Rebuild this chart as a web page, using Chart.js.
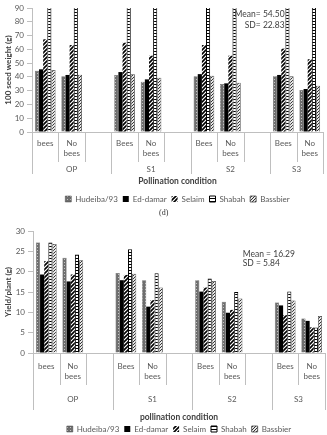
<!DOCTYPE html>
<html><head><meta charset="utf-8">
<script src="https://cdn.jsdelivr.net/npm/chart.js@4.4.0/dist/chart.umd.min.js"></script>
<style>
html,body{margin:0;padding:0;background:#fff;overflow:hidden;width:327px;height:435px;position:relative;}
#w1{position:absolute;left:0;top:0;width:327px;height:213px;}
#w2{position:absolute;left:0;top:222px;width:327px;height:221px;}
#dlabel{position:absolute;left:159px;top:208px;font:8px "Liberation Serif",serif;color:#333;}
</style></head><body>
<div id="w1"><canvas id="c1" width="327" height="213"></canvas></div>
<div id="w2"><canvas id="c2" width="327" height="221"></canvas></div>
<div id="dlabel">(d)</div>
<script>
// ---- data ----
const categories = ['bees',['No','bees'],'','Bees',['No','bees'],'','Bees',['No','bees'],'','Bees',['No','bees']];
const groups = ['OP','S1','S2','S3'];
const groupStart = [0,3,6,9];
const groupEnd = [2,5,8,10];
const varieties = ['Hudeiba/93','Ed-damar','Selaim','Shabah','Bassbier'];

// 100 seed weight (g)
const seedHudeiba  = [44.5,40.4,null,41.4,36.5,null,40.4,34.8,null,40.4,30.5];
const seedEddamar  = [45.5,41.4,null,43.5,38.2,null,42.0,35.3,null,41.4,31.2];
const seedSelaim   = [67.3,63.1,null,64.8,55.4,null,63.1,55.4,null,60.5,52.8];
const seedShabah   = [98,95,null,97,92,null,96,91,null,94,90.5];
const seedBassbier = [45.0,41.5,null,42.0,39.4,null,40.8,35.8,null,40.4,33.6];
const seedStats = ['Mean= 54.50','SD= 22.83'];

// Yield / plant (g)
const yieldHudeiba  = [27.2,23.4,null,19.7,17.9,null,17.9,12.6,null,12.4,8.5];
const yieldEddamar  = [19.3,17.6,null,17.9,11.4,null,15.1,9.9,null,11.7,7.9];
const yieldSelaim   = [22.6,19.3,null,19.2,13.0,null,16.1,10.6,null,9.3,6.3];
const yieldShabah   = [27.2,24.2,null,25.5,19.6,null,18.3,15.0,null,15.1,6.3];
const yieldBassbier = [26.8,22.8,null,19.5,16.1,null,17.7,13.4,null,12.9,9.1];
const yieldStats = ['Mean = 16.29','SD = 5.84'];

// ---- styles ----
const F = 'Lato, "Liberation Sans", sans-serif';
function pat(w,h,fn){const c=document.createElement('canvas');c.width=w;c.height=h;const g=c.getContext('2d');fn(g,w,h);return g.createPattern(c,'repeat');}
const fills = [
  pat(3,3,(g,w,h)=>{g.fillStyle='#6e6e6e';g.fillRect(0,0,w,h);g.fillStyle='#c4c4c4';g.fillRect(1,1,1,1);}),
  '#000000',
  pat(4,4,(g,w,h)=>{g.fillStyle='#fff';g.fillRect(0,0,w,h);g.strokeStyle='#000';g.lineWidth=1.6;g.beginPath();g.moveTo(-1,5);g.lineTo(5,-1);g.moveTo(-1,1);g.lineTo(1,-1);g.moveTo(3,5);g.lineTo(5,3);g.stroke();}),
  pat(3,3,(g,w,h)=>{g.fillStyle='#fff';g.fillRect(0,0,w,h);g.fillStyle='#000';g.fillRect(0,0,w,1);}),
  pat(3,3,(g,w,h)=>{g.fillStyle='#e8e8e8';g.fillRect(0,0,w,h);g.fillStyle='#333';g.fillRect(0,0,1,1);g.fillRect(2,1,1,1);g.fillRect(1,2,1,1);})
];
const borders = ['#444','#000','#000','#000','#444'];
const bws = [0.5,0,0,1,0.8];

const tableAxis = {
  id:'tableAxis',
  afterDraw(chart, args, o){
    const ctx=chart.ctx, xs=chart.scales.x, ys=chart.scales.y, base=xs.top;
    const n=chart.data.labels.length;
    const longAt=new Set(groupStart.map(s=>s-0.5).concat([n-0.5]));
    ctx.save();
    ctx.strokeStyle='#bfbfbf';ctx.lineWidth=1;
    for(let k=-0.5;k<=n-0.5;k+=1){
      const x=Math.round(xs.getPixelForValue(k))+0.5;
      const yb=base+(longAt.has(k)?o.groupBottom:o.rowBottom);
      ctx.beginPath();ctx.moveTo(x,base);ctx.lineTo(x,yb);ctx.stroke();
    }
    ctx.fillStyle='#595959';ctx.font='8px '+F;ctx.textAlign='center';ctx.textBaseline='middle';
    chart.data.labels.forEach((lab,i)=>{
      const lines=Array.isArray(lab)?lab:[lab];
      const x=xs.getPixelForValue(i);
      lines.forEach((t,j)=>ctx.fillText(t,x,base+o.row1Y+j*o.lineGap));
    });
    groups.forEach((g,i)=>{
      const x=(xs.getPixelForValue(groupStart[i])+xs.getPixelForValue(groupEnd[i]))/2;
      ctx.fillText(g,x,base+o.groupY);
    });
    ctx.font='bold 8.5px '+F;ctx.fillStyle='#404040';
    ctx.fillText(o.title,(xs.left+xs.right)/2,base+o.titleY);
    ctx.font='8.5px '+F;ctx.fillStyle='#404040';ctx.textAlign=o.statAlign;
    o.stats.forEach((t,j)=>ctx.fillText(t,xs.getPixelForValue(o.statX),ys.getPixelForValue(o.statY[j])));
    ctx.restore();
  }
};

function build(id,o){
  const datasets=o.series.map((d,i)=>({label:varieties[i],data:d,backgroundColor:fills[i],borderColor:borders[i],borderWidth:bws[i],barPercentage:1,categoryPercentage:0.78}));
  return new Chart(document.getElementById(id),{
    type:'bar',
    data:{labels:categories,datasets},
    plugins:[tableAxis],
    options:{
      responsive:false,animation:false,
      layout:{padding:{top:o.padTop,right:o.padRight,left:0,bottom:0}},
      scales:{
        x:{ticks:{display:false},grid:{display:false},border:{display:true,color:'#bfbfbf'},afterFit(s){s.height=o.xHeight;}},
        y:{min:0,max:o.yMax,
           ticks:{stepSize:o.yStep,color:'#595959',font:{family:F,size:8},padding:3},
           grid:{drawOnChartArea:false,drawTicks:true,tickLength:5,color:'#bfbfbf'},
           border:{display:true,color:'#bfbfbf'},
           title:{display:true,text:o.yTitle,color:'#404040',font:{family:F,size:8,weight:'bold'},padding:{top:4,bottom:0}},
           afterFit(s){s.width=o.yWidth;}}
      },
      plugins:{
        legend:{position:'bottom',fullSize:false,labels:{boxWidth:6,boxHeight:6,padding:5,color:'#595959',font:{family:F,size:8}}},
        tooltip:{enabled:false},
        tableAxis:o.table
      }
    }
  });
}

build('c1',{
  series:[seedHudeiba,seedEddamar,seedSelaim,seedShabah,seedBassbier],
  yMax:90,yStep:10,yTitle:'100 seed weight (g)',
  padTop:8,padRight:4,xHeight:58,yWidth:32,
  table:{row1Y:11,lineGap:10,rowBottom:30,groupBottom:42,groupY:37,titleY:49.5,title:'Pollination condition',
         stats:seedStats,statAlign:'right',statX:9.05,statY:[85.5,77.5]}
});
build('c2',{
  series:[yieldHudeiba,yieldEddamar,yieldSelaim,yieldShabah,yieldBassbier],
  yMax:30,yStep:5,yTitle:'Yield/plant (g)',
  padTop:9,padRight:2,xHeight:67,yWidth:33,
  table:{row1Y:13,lineGap:10,rowBottom:32,groupBottom:57,groupY:46,titleY:64,title:'pollination condition',
         stats:yieldStats,statAlign:'left',statX:7.4,statY:[24.3,22.1]}
});
</script>
</body></html>
